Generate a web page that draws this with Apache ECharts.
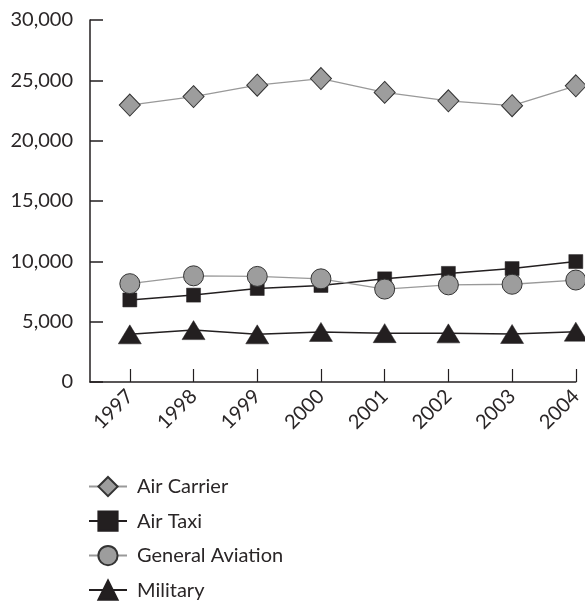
<!DOCTYPE html>
<html><head><meta charset="utf-8">
<script src="https://cdn.jsdelivr.net/npm/echarts@6/dist/echarts.min.js"></script>
<style>html,body{margin:0;padding:0;background:#fff}#c{width:585px;height:602px}</style>
</head><body><div id="c"></div>
<script>
var years = [1997, 1998, 1999, 2000, 2001, 2002, 2003, 2004];
var airCarrier = [22950, 23650, 24600, 25150, 24000, 23300, 22900, 24550];
var airTaxi = [6800, 7200, 7750, 8000, 8550, 9000, 9400, 9980];
var generalAviation = [8150, 8800, 8750, 8550, 7700, 8050, 8100, 8450];
var military = [3950, 4300, 3950, 4150, 4050, 4030, 3980, 4170];
var yTicks = [0, 5000, 10000, 15000, 20000, 25000, 30000];

function pairs(v){ return years.map(function(y,i){ return [y, v[i]]; }); }
var font = 'Lato, "Open Sans", sans-serif';
var chart = echarts.init(document.getElementById('c'), null, {renderer:'canvas'});
chart.setOption({
  animation: false,
  backgroundColor: '#fff',
  grid: {left: 90, top: 20, right: 7, bottom: 220, containLabel: false},
  xAxis: {
    type: 'value', min: 1996.375, max: 2004,
    axisLine: {show: true, lineStyle: {color: '#231f20', width: 1.5}},
    axisTick: {show: true, inside: true, length: 13, customValues: years, lineStyle: {color: '#231f20', width: 1.2}},
    axisLabel: {customValues: years, rotate: 45, margin: 11, color: '#2a2627', fontFamily: font, fontSize: 20,
      formatter: function(v){ return String(Math.round(v)); }},
    splitLine: {show: false}
  },
  yAxis: {
    type: 'value', min: 0, max: 30000, interval: 5000,
    axisLine: {show: true, lineStyle: {color: '#231f20', width: 1.5}},
    axisTick: {show: true, inside: true, length: 13, lineStyle: {color: '#231f20', width: 1.5}},
    axisLabel: {color: '#2a2627', fontFamily: font, fontSize: 20, margin: 17,
      customValues: yTicks,
      formatter: function(v){ return v.toLocaleString('en-US'); }},
    splitLine: {show: false}
  },
  legend: {
    orient: 'vertical', left: 88, top: 476, width: 300, height: 126, padding: 0,
    itemGap: 13.3, itemWidth: 38, itemHeight: 24,
    textStyle: {color: '#2a2627', fontFamily: font, fontSize: 20, padding: [0,0,0,5]},
    data: ['Air Carrier', 'Air Taxi', 'General Aviation', 'Military']
  },
  series: [
    {name: 'Air Carrier', type: 'line', data: pairs(airCarrier), symbol: 'diamond', symbolSize: [21, 22],
      lineStyle: {color: '#999', width: 1.3}, itemStyle: {color: '#9d9d9d', borderColor: '#333', borderWidth: 1}, z: 2},
    {name: 'Air Taxi', type: 'line', data: pairs(airTaxi), symbol: 'rect', symbolSize: 14,
      lineStyle: {color: '#231f20', width: 1.5}, itemStyle: {color: '#231f20', borderColor: '#231f20', borderWidth: 0.5}, z: 3},
    {name: 'General Aviation', type: 'line', data: pairs(generalAviation), symbol: 'circle', symbolSize: 20,
      lineStyle: {color: '#999', width: 1.3}, itemStyle: {color: '#9d9d9d', borderColor: '#333', borderWidth: 1}, z: 4},
    {name: 'Military', type: 'line', data: pairs(military), symbol: 'triangle', symbolSize: [23, 19],
      lineStyle: {color: '#231f20', width: 1.5}, itemStyle: {color: '#231f20', borderColor: '#231f20', borderWidth: 0.5}, z: 5}
  ]
});
</script></body></html>
